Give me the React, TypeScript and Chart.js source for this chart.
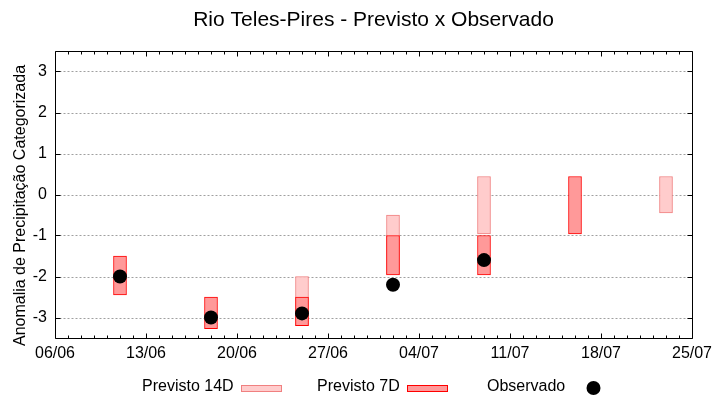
import React, { useEffect, useRef } from "react";
import { Chart, registerables } from "chart.js";

Chart.register(...registerables);

const TITLE = "Rio Teles-Pires - Previsto x Observado";
const Y_TITLE = "Anomalia de Precipitação Categorizada";
const START_DATE = "06/06";
const xTickLabels = ["06/06", "13/06", "20/06", "27/06", "04/07", "11/07", "18/07", "25/07"];
const yTickValues = [-3, -2, -1, 0, 1, 2, 3];
const dates = ["11/06", "18/06", "25/06", "02/07", "09/07", "16/07", "23/07"];
const prev14Low: (number | null)[] = [null, null, -3.2, -1.95, -0.96, null, -0.45];
const prev14High: (number | null)[] = [null, null, -2.0, -0.5, 0.44, null, 0.44];
const prev7Low: (number | null)[] = [-2.45, -3.27, -3.2, -1.96, -1.96, -0.96, null];
const prev7High: (number | null)[] = [-1.5, -2.5, -2.5, -1.0, -1.0, 0.44, null];
const observed: (number | null)[] = [-2.0, -3.0, -2.9, -2.2, -1.6, null, null];
const legendLabels = ["Previsto 14D", "Previsto 7D", "Observado"];

const FONT = "'Liberation Sans', Arial, Helvetica, sans-serif";
const C14_FILL = "rgb(255,204,204)";
const C14_BORDER = "rgb(240,128,128)";
const C7_FILL = "rgb(255,153,153)";
const C7_BORDER = "rgb(255,0,0)";

function dayOffset(label: string): number {
  const [d, m] = label.split("/").map(Number);
  const [sd, sm] = START_DATE.split("/").map(Number);
  return Math.round((Date.UTC(2000, m - 1, d) - Date.UTC(2000, sm - 1, sd)) / 86400000);
}

function rangeData(lo: (number | null)[], hi: (number | null)[]) {
  const out: any[] = [];
  dates.forEach((d, i) => {
    if (lo[i] != null && hi[i] != null) out.push({ x: dayOffset(d), y: [lo[i], hi[i]] });
  });
  return out;
}

const xTickValues = xTickLabels.map(dayOffset);

const framePlugin = {
  id: "gnuFrame",
  beforeDatasetsDraw(chart: any) {
    const { ctx, chartArea: a, scales } = chart;
    const x = scales.x;
    const y = scales.y;
    const L = Math.round(a.left) + 0.5;
    const R = Math.round(a.right) + 0.5;
    const T = Math.round(a.top) + 0.5;
    const B = Math.round(a.bottom) + 0.5;
    ctx.save();
    ctx.strokeStyle = "rgb(160,160,160)";
    ctx.lineWidth = 1;
    ctx.setLineDash([2, 2]);
    yTickValues.forEach((v) => {
      const py = Math.round(y.getPixelForValue(v)) + 0.5;
      ctx.beginPath();
      ctx.moveTo(L, py);
      ctx.lineTo(R, py);
      ctx.stroke();
    });
    ctx.setLineDash([]);
    ctx.strokeStyle = "#000";
    yTickValues.forEach((v) => {
      const py = Math.round(y.getPixelForValue(v)) + 0.5;
      ctx.beginPath();
      ctx.moveTo(L, py);
      ctx.lineTo(L + 5, py);
      ctx.moveTo(R, py);
      ctx.lineTo(R - 5, py);
      ctx.stroke();
    });
    for (let d = x.min; d <= x.max; d++) {
      const px = Math.round(x.getPixelForValue(d)) + 0.5;
      const len = xTickValues.includes(d) ? 5 : 3;
      ctx.beginPath();
      ctx.moveTo(px, B);
      ctx.lineTo(px, B - len);
      ctx.moveTo(px, T);
      ctx.lineTo(px, T + len);
      ctx.stroke();
    }
    ctx.beginPath();
    ctx.rect(L, T, R - L, B - T);
    ctx.stroke();
    ctx.restore();
  },
  afterDraw(chart: any) {
    const { ctx, chartArea: a } = chart;
    ctx.save();
    ctx.fillStyle = "#000";
    ctx.font = `16px ${FONT}`;
    ctx.save();
    ctx.translate(21, (a.top + a.bottom) / 2 + 11);
    ctx.rotate(-Math.PI / 2);
    ctx.textAlign = "center";
    ctx.textBaseline = "middle";
    ctx.fillText(Y_TITLE, 0, 0);
    ctx.restore();
    ctx.textAlign = "left";
    ctx.textBaseline = "middle";
    const ty = 387;
    ctx.fillText(legendLabels[0], 142, ty);
    ctx.fillText(legendLabels[1], 317, ty);
    ctx.fillText(legendLabels[2], 487, ty);
    ctx.lineWidth = 1;
    ctx.fillStyle = C14_FILL;
    ctx.fillRect(241.5, 385.5, 40, 6);
    ctx.strokeStyle = C14_BORDER;
    ctx.strokeRect(241.5, 385.5, 40, 6);
    ctx.fillStyle = C7_FILL;
    ctx.fillRect(407.5, 385.5, 40, 6);
    ctx.strokeStyle = C7_BORDER;
    ctx.strokeRect(407.5, 385.5, 40, 6);
    ctx.fillStyle = "#000";
    ctx.beginPath();
    ctx.arc(593.5, 388, 7, 0, Math.PI * 2);
    ctx.fill();
    ctx.restore();
  },
};

export default function App() {
  const ref = useRef<HTMLCanvasElement>(null);
  useEffect(() => {
    if (!ref.current) return;
    Chart.defaults.font.family = FONT;
    const chart = new Chart(ref.current, {
      type: "bar",
      data: {
        datasets: [
          {
            type: "scatter",
            label: legendLabels[2],
            data: dates
              .map((d, i) => (observed[i] != null ? { x: dayOffset(d), y: observed[i] } : null))
              .filter(Boolean) as any,
            backgroundColor: "#000",
            borderColor: "#000",
            borderWidth: 0,
            pointRadius: 7,
            order: 0,
          } as any,
          {
            label: legendLabels[1],
            data: rangeData(prev7Low, prev7High),
            backgroundColor: C7_FILL,
            borderColor: C7_BORDER,
            borderWidth: 1,
            borderSkipped: false,
            barThickness: 13,
            grouped: false,
            order: 1,
          } as any,
          {
            label: legendLabels[0],
            data: rangeData(prev14Low, prev14High),
            backgroundColor: C14_FILL,
            borderColor: C14_BORDER,
            borderWidth: 1,
            borderSkipped: false,
            barThickness: 13,
            grouped: false,
            order: 2,
          } as any,
        ],
      },
      options: {
        responsive: false,
        animation: false,
        events: [],
        layout: { padding: { top: 0, right: 28, bottom: 0, left: 0 } },
        plugins: {
          legend: { display: false },
          tooltip: { enabled: false },
          title: {
            display: true,
            text: TITLE,
            fullSize: false,
            color: "#000",
            font: { size: 21, weight: "normal", family: FONT },
            padding: { top: 7.4, bottom: 18.4 },
          },
        },
        scales: {
          x: {
            type: "linear",
            min: dayOffset(xTickLabels[0]),
            max: dayOffset(xTickLabels[xTickLabels.length - 1]),
            offset: false,
            afterBuildTicks: (s: any) => {
              s.ticks = xTickValues.map((v) => ({ value: v }));
            },
            afterFit: (s: any) => {
              s.height = 62;
            },
            ticks: {
              autoSkip: false,
              maxRotation: 0,
              color: "#000",
              font: { size: 16, family: FONT },
              padding: 6,
              callback: (v: any) => xTickLabels[xTickValues.indexOf(Number(v))] ?? "",
            },
            grid: { display: false, drawTicks: false },
            border: { display: false },
          },
          y: {
            type: "linear",
            min: -3.5,
            max: 3.5,
            afterBuildTicks: (s: any) => {
              s.ticks = yTickValues.map((v) => ({ value: v }));
            },
            afterFit: (s: any) => {
              s.width = 55;
            },
            ticks: {
              color: "#000",
              font: { size: 16, family: FONT },
              padding: 8,
              callback: (v: any) => String(v),
            },
            grid: { display: false, drawTicks: false },
            border: { display: false },
          },
        },
      },
      plugins: [framePlugin],
    } as any);
    return () => chart.destroy();
  }, []);
  return (
    <div style={{ position: "fixed", left: 0, top: 0, width: 720, height: 400, background: "#fff" }}>
      <canvas ref={ref} width={720} height={400} />
    </div>
  );
}
